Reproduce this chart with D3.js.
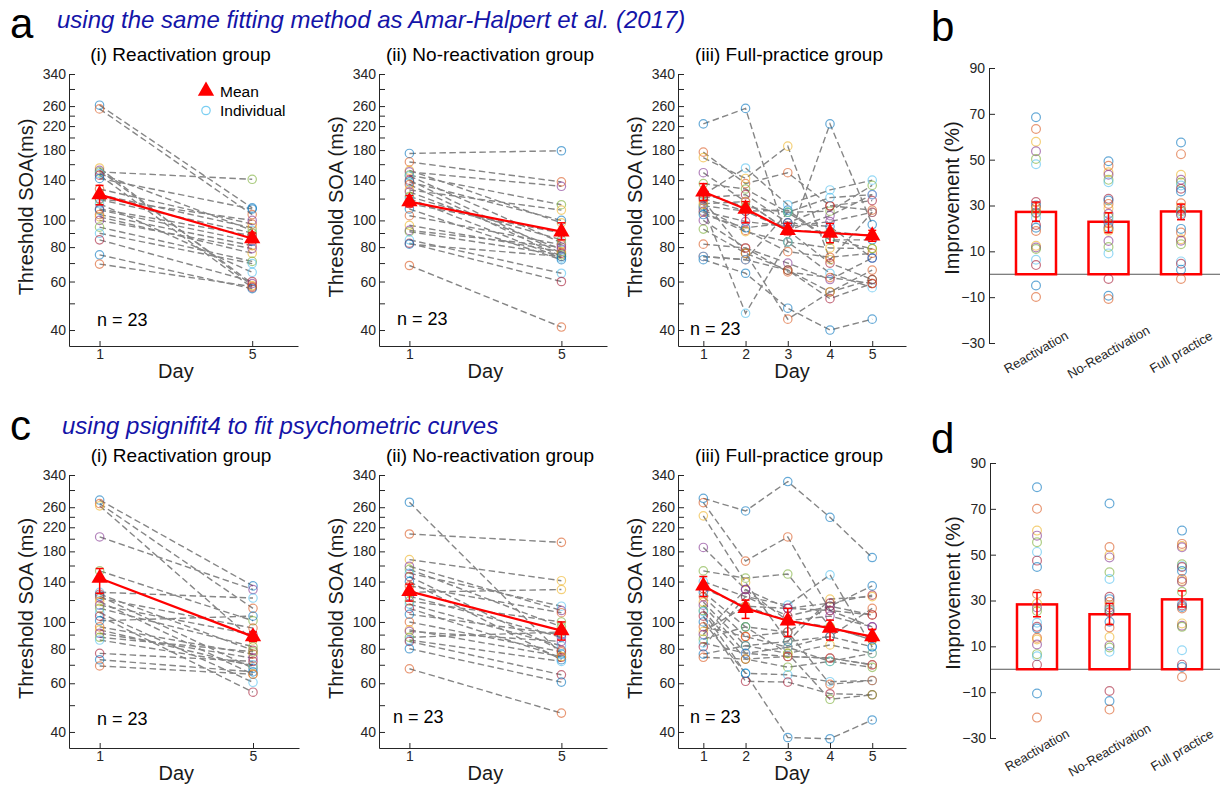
<!DOCTYPE html>
<html>
<head>
<meta charset="utf-8">
<script src="https://cdn.jsdelivr.net/npm/d3@7"></script>
<style>
body { margin: 0; background: #fff; }
svg { font-family: "Liberation Sans", Arial, Helvetica, sans-serif; }
.axis path, .axis line { stroke: #262626; stroke-width: 1; }
.axis text { fill: #262626; font-size: 14px; font-family: "Liberation Sans", Arial, sans-serif; }
</style>
</head>
<body>
<svg id="fig" width="1220" height="786"></svg>
<script>
const colors = ["#0072BD","#D95319","#EDB120","#7E2F8E","#77AC30","#4DBEEE","#A2142F"];

// y ticks for the threshold panels (log axis)
const yTicks = [40,50,60,70,80,90,100,120,140,160,180,200,220,240,260,300,340];
const yTickLabels = [40,60,80,100,140,180,220,260,340];

// ---- a: same fitting method as Amar-Halpert et al. (2017) ----
// each row = one subject, [day1, day5]
const reactA = [[262,111],[254,105],[155,58],[152,59],[150,141],[148,92],[146,57],[142,110],[130,97],[124,94],[120,100],[119,90],[115,64.8],[110,88],[109,84],[105,81],[103,76],[100,79],[94.5,71],[89.8,69.7],[85,60],[75,56.5],[69.4,57.5]];
const reactA_mean = [124,86], reactA_lo = [114,83], reactA_hi = [134,90];

const noReactA = [[175,179],[163,138],[152,98],[150,133],[146,114],[145,83],[140,76],[138,100],[135,74],[129,109],[127,78.5],[122,85],[120,73],[115,90],[110,72],[104,81.6],[96,77],[92,80],[91,75],[85,64.3],[82.6,60],[82,74],[68.6,41]];
const noReactA_mean = [117,91], noReactA_lo = [112,85], noReactA_hi = [123,98];

// [day1..day5]
const fullA = [
  [224,255,83.5,224,96.6],[177,136,149,113,109],[169,142,186,72,107],[149,117,92,104,124],
  [136,130,107,108,134],[124,155,114,129,140],[121,124,98,113,118],[113,108,109,85,85],
  [111,92,77,73.5,76],[107,91,83.5,79.4,79],[100,79.4,70,61,73],[93,76,66,55,61],
  [111,46,83.5,64.3,57],[74,72,66,52,59],[72,64.3,48,40,43.8],[118,76,43.8,55,66],
  [115,117,92,91,88],[108,99,95,99,107],[125,112,107,85,79],[74,72,107,121,124],
  [120,108,92,70,61],[105,94,98,95,73],[82,79.4,65,62,59]];
const fullA_mean = [127,110,92,90,88], fullA_lo = [118,98,88.7,83,84], fullA_hi = [136,117,97.5,97.5,92];

// ---- c: psignifit4 ----
const reactC = [[276,135],[268,112],[263,86],[203,131],[153,101],[128,122],[126,79],[124,68],[122,95],[118.5,64.7],[115,90],[112,81.4],[108,60.5],[105,55.7],[101,105],[96,76.5],[93.6,69.3],[91,74],[88,78],[86,70],[77,72],[73,66],[69.3,64.7]];
const reactC_mean = [144,88.5], reactC_lo = [127,85], reactC_hi = [156,92];

const noReactC = [[271,76.5],[208,194],[168,141],[159,110],[155,96],[150,114],[146,79],[140,73],[135,108],[128,131],[124,88],[119,100],[116,82],[112,74.5],[106.6,90],[100,78],[93.6,75],[92.4,85],[88,92],[86,72],[85,64.4],[80,60.6],[67.7,46.8]];
const noReactC_mean = [129,93], noReactC_lo = [119,86], noReactC_hi = [137,100];

const fullC = [
  [280,252,322,239,171],[270,166,203,110,106],[242,139,85,121,123.5],[186,131,101,105,96],
  [153,144,149,96,86],[140,123.5,115,148,81.3],[132,114,112,117,125],[128,96,92,114,135],
  [123.5,88.5,81,88.5,112],[118,82,77,82.6,77],[115,77,75,74,70],[110,73.4,68.6,72,68.5],
  [109,65.2,64.4,60.8,61.4],[105,61,60.6,55,54.5],[100,65.2,38.2,37.8,44.2],[96,88.5,92,59.5,61.4],
  [92.4,114,101,96,86],[90,131,112,110,96],[86.6,96,77,52.5,54.5],[84,77,81,72,77],
  [81.3,123.5,105,114,106],[76.5,82,85,88.5,81.3],[74.5,73.4,75,74,70]];
const fullC_mean = [135,112,101,95,88.5], fullC_lo = [123.5,103,88.5,86,85], fullC_hi = [146,120,112,101.5,94];

// ---- b / d: improvement (%) ----
const barCats = ["Reactivation","No-Reactivation","Full practice"];
const barTicks = [-30,-10,10,30,50,70,90];

const impB_react = [68.5,63.4,57.8,53.7,50.3,48.0,31.5,30.0,29.1,28.1,27.0,26.6,24.7,21.5,20.3,18.9,12.4,11.7,11.0,6.3,4.0,-4.9,-9.9];
const impB_noReact = [49.3,47.3,44.5,43.4,41.2,40.2,32.9,32.2,30.7,28.8,26.4,25.0,23.5,22.3,20.5,19.8,19.0,14.5,11.9,9.1,-2.1,-9.4,-10.8];
const impB_full = [57.5,52.4,43.4,41.2,40.0,38.7,37.3,36.1,31.0,29.1,28.0,27.4,26.5,25.9,19.8,18.2,15.3,14.6,13.1,5.6,4.6,2.0,-2.1];
const impB_mean = [27.2,22.9,27.4], impB_lo = [23.1,18.2,23.8], impB_hi = [31.5,26.8,30.6];

const impD_react = [79.4,70.0,60.5,58.3,55.4,51.2,47.4,44.6,32.8,28.7,27.0,25.4,20.3,18.5,17.8,13.7,13.0,10.8,6.6,5.7,2.0,-10.6,-21.1];
const impD_noReact = [72.3,53.3,49.8,48.8,42.3,39.4,31.6,30.6,29.4,28.0,27.0,26.0,25.8,24.9,20.7,18.2,14.1,10.4,9.5,7.6,-9.5,-13.9,-17.6];
const impD_full = [60.5,54.7,53.8,53.2,45.8,45.0,44.6,42.9,39.4,38.5,38.2,33.8,28.7,27.8,27.2,26.5,20.0,19.0,18.5,8.3,2.0,1.0,-3.4];
const impD_mean = [28.3,24.0,30.5], impD_lo = [22.9,19.5,27.2], impD_hi = [33.5,28.7,34.2];

const svg = d3.select("#fig");

function thresholdPanel(o) {
  let days = o.rows[0].length == 2 ? [1,5] : [1,2,3,4,5];
  let x = d3.scaleLinear().domain(days.length == 2 ? [0.2,6.2] : [0.4,5.8]).range([o.x0, o.x1]);
  let y = d3.scaleLog().domain([35,340]).range([o.yBot, o.yTop]);
  let g = svg.append("g");

  let line = d3.line().x((d,i) => x(days[i])).y(d => y(d));

  g.selectAll(".ind").data(o.rows).join("path")
    .attr("class","ind")
    .attr("d", line)
    .attr("fill","none").attr("stroke","#868686")
    .attr("stroke-width",1.4).attr("stroke-dasharray","6.5,3.5");

  let pts = o.rows.flatMap((r,k) => r.map((v,i) => ({v:v, day:days[i], k:k})));
  g.selectAll(".pt").data(pts).join("circle")
    .attr("class","pt")
    .attr("cx", d => x(d.day)).attr("cy", d => y(d.v)).attr("r",4.2)
    .attr("fill","none").attr("stroke", d => colors[d.k % 7])
    .attr("stroke-opacity",0.6).attr("stroke-width",1.2);

  // axes
  g.append("g").attr("class","axis").attr("transform","translate("+o.x0+",0)")
    .call(d3.axisLeft(y).tickValues(yTicks)
      .tickFormat(d => yTickLabels.includes(d) ? d : "")
      .tickSize(-6).tickSizeOuter(0).tickPadding(3));
  g.append("g").attr("class","axis").attr("transform","translate(0,"+o.yBot+")")
    .call(d3.axisBottom(x).tickValues(days).tickFormat(d3.format("d"))
      .tickSize(-5).tickSizeOuter(0).tickPadding(3));

  // mean
  g.append("path").datum(o.mean).attr("d", line)
    .attr("fill","none").attr("stroke","#ff0000").attr("stroke-width",2.2);
  days.forEach((dd,i) => {
    let cx = x(dd);
    g.append("line").attr("x1",cx).attr("x2",cx).attr("y1",y(o.lo[i])).attr("y2",y(o.hi[i]))
      .attr("stroke","#ff0000").attr("stroke-width",1.5);
    [o.lo[i], o.hi[i]].forEach(v => {
      g.append("line").attr("x1",cx-4).attr("x2",cx+4).attr("y1",y(v)).attr("y2",y(v))
        .attr("stroke","#ff0000").attr("stroke-width",1.5);
    });
  });
  g.selectAll(".mean").data(o.mean).join("path")
    .attr("class","mean")
    .attr("transform",(d,i) => "translate("+x(days[i])+","+y(d)+")")
    .attr("d", d3.symbol(d3.symbolTriangle, 115))
    .attr("fill","#ff0000");

  // texts
  g.append("text").attr("x",(o.x0+o.x1)/2 - 3).attr("y",o.titleY)
    .attr("text-anchor","middle").attr("font-size",19).attr("fill","#000").text(o.title);
  g.append("text").attr("transform","translate("+(o.x0-36)+","+((o.yTop+o.yBot)/2 - 3)+") rotate(-90)")
    .attr("text-anchor","middle").attr("font-size",20).attr("fill","#1a1a1a").text(o.ylabel);
  g.append("text").attr("x", days.length == 2 ? x(3) : (o.x0+o.x1)/2).attr("y",o.yBot+32)
    .attr("text-anchor","middle").attr("font-size",20).attr("fill","#1a1a1a").text("Day");
  g.append("text").attr("x",o.nX).attr("y",o.nY).attr("font-size",18).attr("fill","#000").text("n = 23");

  if (o.legend) {
    g.append("path").attr("transform","translate(206,91)")
      .attr("d", d3.symbol(d3.symbolTriangle, 115)).attr("fill","#ff0000");
    g.append("text").attr("x",220).attr("y",97).attr("font-size",15.5).text("Mean");
    g.append("circle").attr("cx",206).attr("cy",110.5).attr("r",4.2)
      .attr("fill","none").attr("stroke",colors[5]).attr("stroke-opacity",0.75).attr("stroke-width",1.2);
    g.append("text").attr("x",220).attr("y",116).attr("font-size",15.5).text("Individual");
  }
}

function barPanel(o) {
  let y = d3.scaleLinear().domain([-30,90]).range([o.yBot, o.yTop]);
  let x = d3.scalePoint().domain(barCats).range(o.xr);
  let g = svg.append("g");

  g.append("line").attr("x1",o.x0).attr("x2",1220).attr("y1",y(0)).attr("y2",y(0))
    .attr("stroke","#555").attr("stroke-width",1);

  g.selectAll(".bar").data(o.mean).join("rect")
    .attr("class","bar")
    .attr("x",(d,i) => x(barCats[i]) - 20).attr("width",40)
    .attr("y", d => y(d)).attr("height", d => y(0) - y(d))
    .attr("fill","none").attr("stroke","#ff0000").attr("stroke-width",2.5);

  let pts = o.ind.flatMap((arr,c) => arr.map((v,k) => ({v:v, c:c, k:k})));
  g.selectAll(".pt").data(pts).join("circle")
    .attr("class","pt")
    .attr("cx", d => x(barCats[d.c])).attr("cy", d => y(d.v)).attr("r",4.4)
    .attr("fill","none").attr("stroke", d => colors[d.k % 7])
    .attr("stroke-opacity",0.6).attr("stroke-width",1.2);

  barCats.forEach((c,i) => {
    let cx = x(c);
    g.append("line").attr("x1",cx).attr("x2",cx).attr("y1",y(o.lo[i])).attr("y2",y(o.hi[i]))
      .attr("stroke","#ff0000").attr("stroke-width",1.5);
    [o.lo[i], o.hi[i]].forEach(v => {
      g.append("line").attr("x1",cx-4).attr("x2",cx+4).attr("y1",y(v)).attr("y2",y(v))
        .attr("stroke","#ff0000").attr("stroke-width",1.5);
    });
    g.append("text")
      .attr("transform","translate("+cx+","+(o.yBot+o.labOff)+") rotate(-30)")
      .attr("text-anchor","middle").attr("dominant-baseline","central")
      .attr("font-size",13).attr("fill","#262626").text(c);
  });

  g.append("g").attr("class","axis").attr("transform","translate("+o.x0+",0)")
    .call(d3.axisLeft(y).tickValues(barTicks).tickSize(-6).tickSizeOuter(0).tickPadding(4));

  g.append("text").attr("transform","translate("+(o.x0-30)+","+o.labY+") rotate(-90)")
    .attr("text-anchor","middle").attr("font-size",20).attr("fill","#1a1a1a").text("Improvement (%)");
}

thresholdPanel({rows:reactA, mean:reactA_mean, lo:reactA_lo, hi:reactA_hi, x0:69, x1:298, yTop:74, yBot:346,
  title:"(i) Reactivation group", titleY:61, ylabel:"Threshold SOA(ms)", nX:97, nY:326, legend:true});
thresholdPanel({rows:noReactA, mean:noReactA_mean, lo:noReactA_lo, hi:noReactA_hi, x0:379, x1:607, yTop:74, yBot:346,
  title:"(ii) No-reactivation group", titleY:61, ylabel:"Threshold SOA (ms)", nX:397, nY:325});
thresholdPanel({rows:fullA, mean:fullA_mean, lo:fullA_lo, hi:fullA_hi, x0:678, x1:906, yTop:74, yBot:346,
  title:"(iii) Full-practice group", titleY:61, ylabel:"Threshold SOA (ms)", nX:690, nY:335});

thresholdPanel({rows:reactC, mean:reactC_mean, lo:reactC_lo, hi:reactC_hi, x0:69, x1:299, yTop:475, yBot:748,
  title:"(i) Reactivation group", titleY:462, ylabel:"Threshold SOA (ms)", nX:97, nY:725});
thresholdPanel({rows:noReactC, mean:noReactC_mean, lo:noReactC_lo, hi:noReactC_hi, x0:379, x1:607, yTop:475, yBot:748,
  title:"(ii) No-reactivation group", titleY:462, ylabel:"Threshold SOA (ms)", nX:393, nY:723});
thresholdPanel({rows:fullC, mean:fullC_mean, lo:fullC_lo, hi:fullC_hi, x0:678, x1:906, yTop:475, yBot:748,
  title:"(iii) Full-practice group", titleY:462, ylabel:"Threshold SOA (ms)", nX:690, nY:723});

barPanel({ind:[impB_react, impB_noReact, impB_full], mean:impB_mean, lo:impB_lo, hi:impB_hi,
  x0:989, yTop:68, yBot:343, xr:[1036,1181], labOff:9, labY:198});
barPanel({ind:[impD_react, impD_noReact, impD_full], mean:impD_mean, lo:impD_lo, hi:impD_hi,
  x0:990, yTop:463, yBot:738, xr:[1037,1182], labOff:12, labY:593});

// panel letters and headers
svg.append("text").attr("x",10).attr("y",38).attr("font-size",42).text("a");
svg.append("text").attr("x",931).attr("y",41).attr("font-size",42).text("b");
svg.append("text").attr("x",10).attr("y",440).attr("font-size",42).text("c");
svg.append("text").attr("x",931).attr("y",453).attr("font-size",42).text("d");
svg.append("text").attr("x",57).attr("y",28).attr("font-size",24).attr("font-style","italic")
  .attr("fill","#1414a8").text("using the same fitting method as Amar-Halpert et al. (2017)");
svg.append("text").attr("x",62).attr("y",434).attr("font-size",24).attr("font-style","italic")
  .attr("fill","#1414a8").text("using psignifit4 to fit psychometric curves");
</script>
</body>
</html>
